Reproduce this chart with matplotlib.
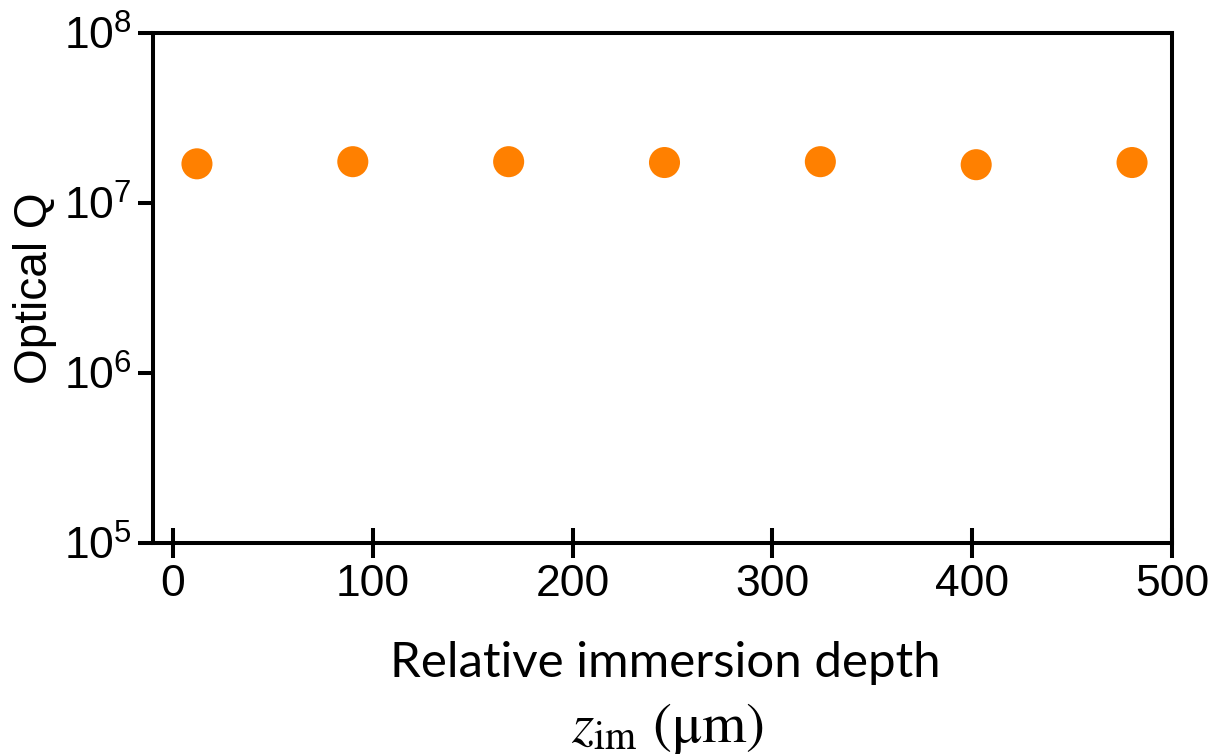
import math
import matplotlib
matplotlib.use("Agg")
import matplotlib.pyplot as plt
from matplotlib.ticker import FixedLocator, FuncFormatter, NullLocator

plt.rcParams['mathtext.fontset'] = 'stix'

# Data
depth_um = [12, 90, 168, 246, 324, 402, 480]
optical_q = [1.70e7, 1.75e7, 1.75e7, 1.73e7, 1.75e7, 1.68e7, 1.73e7]
x_ticks = [0, 100, 200, 300, 400, 500]
y_tick_exps = [5, 6, 7, 8]

W, H = 1217, 756
fig = plt.figure(figsize=(W / 100, H / 100), dpi=100)
ax = fig.add_axes([153 / W, 1 - 543 / H, (1172 - 153) / W, (543 - 33) / H])

ax.scatter(depth_um, optical_q, s=500, color='#FF8000', edgecolors='none', zorder=3)

ax.set_yscale('log')
ax.set_xlim(-10, 500)
ax.set_ylim(1e5, 1e8)

sans = 'Liberation Sans'
ax.xaxis.set_major_locator(FixedLocator(x_ticks))
ax.yaxis.set_major_locator(FixedLocator([10.0 ** e for e in y_tick_exps]))
ax.yaxis.set_minor_locator(NullLocator())
ax.yaxis.set_major_formatter(
    FuncFormatter(lambda v, p: r'$\mathregular{10^{%d}}$' % round(math.log10(v))))

for sp in ax.spines.values():
    sp.set_linewidth(2.9)
    sp.set_color('black')

ax.tick_params(axis='y', direction='out', length=11, width=2.9, pad=4, labelsize=32)
ax.tick_params(axis='x', direction='inout', length=22, width=2.9, pad=4, labelsize=32)
for lab in ax.get_xticklabels() + ax.get_yticklabels():
    lab.set_fontfamily(sans)

ax.set_ylabel('Optical Q', fontsize=33, fontfamily=sans)
ax.yaxis.set_label_coords(-(153 - 57) / (1172 - 153), 0.5)

fig.text(665 / W, 1 - 663 / H, 'Relative immersion depth', fontsize=35.5,
         fontfamily='Lato', ha='center', va='center')
fig.text(667 / W, 1 - 728 / H, r'$\mathit{z}_{\mathrm{im}}$ (μm)', fontsize=41,
         fontfamily='STIXGeneral', ha='center', va='center')

fig.savefig('out.png', dpi=100)
